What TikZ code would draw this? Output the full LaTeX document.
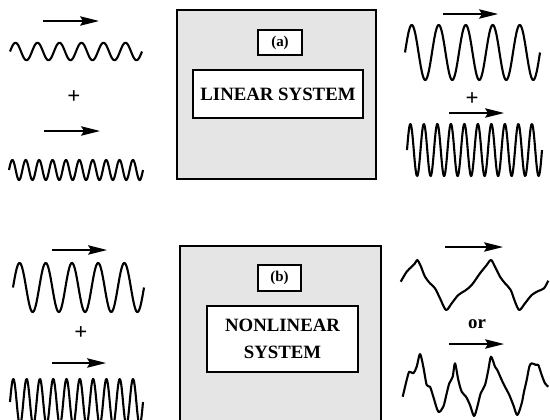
\documentclass[tikz,border=0pt]{standalone}
\usepackage{fontspec}
\setmainfont{Liberation Serif}
\usetikzlibrary{arrows.meta}

\begin{document}
\begin{tikzpicture}[
        x=0.02cm, y=-0.02cm,
        sistema/.style={draw=black, line width=1.2pt, fill=black!10},
        bloque/.style={draw=black, line width=0.9pt, fill=white, inner sep=0pt, align=center, font=\fontsize{10.7}{15.3}\selectfont\bfseries},
        etiqueta/.style={draw=black, line width=0.9pt, fill=white, inner sep=0pt, font=\fontsize{8.5}{10}\selectfont\bfseries},
        onda/.style={line width=1.2pt, line join=round},
        flecha/.style={line width=0.75pt, -{Stealth[length=0.38cm, width=0.19cm, inset=0.06cm]}},
        signo/.style={inner sep=0pt, font=\fontsize{13}{15}\selectfont\bfseries}
    ]
    \clip (0,0) rectangle (550,419);

    % --- SISTEMA (a) LINEAL ---
    \node[sistema, minimum width=3.98cm, minimum height=3.38cm] (SA) at (276.5, 94.5) {};
    \node[etiqueta, minimum width=0.88cm, minimum height=0.5cm] (EA) at (280, 42.5) {(a)};
    \node[bloque, minimum width=3.4cm, minimum height=0.96cm] (BA) at (278, 94) {LINEAR SYSTEM};

    % entrada (a)
    \draw[flecha] (43, 21) -- (99, 21);
    \draw[onda] plot[domain=10:142, samples=240] (\x, {51.5 - 8.7*sin((\x-10)/22*360)});
    \node[signo] (PA1) at (74, 97) {+};
    \draw[flecha] (44, 131) -- (100, 131);
    \draw[onda] plot[domain=9:143, samples=300] (\x, {170 - 10*sin((\x-9)/13.4*360)});

    % salida (a)
    \draw[flecha] (443, 14) -- (498, 14);
    \draw[onda] plot[domain=405:540, samples=240] (\x, {52.5 - 27.5*sin((\x-405)/27*360)});
    \node[signo] (PA2) at (472, 99) {+};
    \draw[flecha] (449, 113) -- (504, 113);
    \draw[onda] plot[domain=407:542, samples=300] (\x, {150 - 26*sin((\x-407)/13.5*360)});

    % --- SISTEMA (b) NO LINEAL ---
    \node[sistema, minimum width=4.02cm, minimum height=3.88cm] (SB) at (280.5, 343) {};
    \node[etiqueta, minimum width=0.86cm, minimum height=0.52cm] (EB) at (279.5, 278) {(b)};
    \node[bloque, minimum width=3.02cm, minimum height=1.32cm] (BB) at (282.5, 339) {NONLINEAR\\SYSTEM};

    % entrada (b)
    \draw[flecha] (52, 250) -- (107, 250);
    \draw[onda] plot[domain=13:144, samples=240] (\x, {287.5 - 24.5*sin((\x-13)/26.2*360)});
    \node[signo] (PB1) at (81, 333) {+};
    \draw[flecha] (52, 363) -- (106, 363);
    \draw[onda] plot[domain=10:143, samples=300] (\x, {402 - 23*sin((\x-10)/13.3*360)});

    % salida (b)
    \draw[flecha] (445, 247) -- (503, 247);
    \draw[onda] plot[smooth, tension=0.5] coordinates {
        (400.7,281.7) (406.7,271.7) (411.7,266.7) (415,263.3) (417.3,260)
        (420.7,266) (425,276.7) (430,283.3) (435,288.3) (440,298.3) (446,310)
        (451.7,303.3) (458.3,295) (465,290.7) (471.7,285) (480,273.3) (486.7,265) (491,260)
        (495,266.7) (500,276.7) (505,283.3) (510.7,290) (515,301.7) (519.3,310)
        (525,303.3) (531.7,295) (538.3,291) (544,288.3) (548.3,280.7)};
    \node[font=\fontsize{10.7}{12}\selectfont\bfseries, inner sep=0pt] (OB) at (477, 324) {or};
    \draw[flecha] (449, 344) -- (504, 344);
    \draw[onda] plot[smooth, tension=0.5] coordinates {
        (402.7,396.7) (406.7,380) (409.3,371.7) (413.3,373.3) (416.7,366.7) (420,354)
        (423.3,366.7) (426.7,385) (430,386.7) (433.3,396.7) (438.3,411.7)
        (443.3,406.7) (446.7,393.3) (449.3,383.3) (452.7,376.7) (455,363.3)
        (458.3,380) (461.7,391.7) (466,396.7) (470,405) (474,416)
        (477.3,406.7) (480.7,393.3) (485,385) (488.3,370) (491,356.7)
        (495,366.7) (497.3,370) (501.7,380) (505,386.7) (509.3,395) (513.3,405) (517.3,415)
        (521.7,403.3) (524,391.7) (526.7,380) (529.3,366.7) (531.7,363.3)
        (536,365) (538.3,365) (541.7,375) (545,383.3) (548.3,386.7)};
\end{tikzpicture}
\end{document}
